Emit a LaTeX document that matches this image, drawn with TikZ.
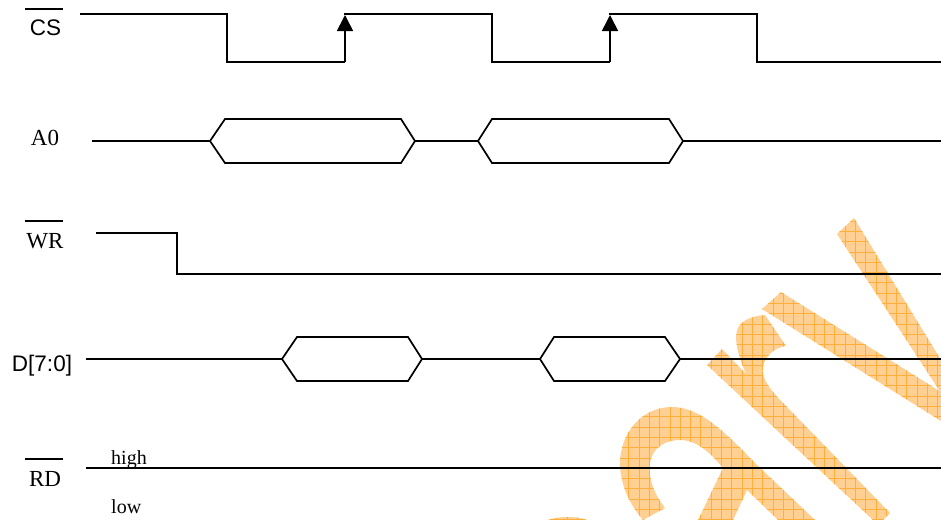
\documentclass[tikz,border=0pt]{standalone}
\usepackage{fontspec}
\setmainfont{Liberation Serif}
\newfontfamily\arialf{Liberation Sans}
\usetikzlibrary{arrows.meta}
\definecolor{wmfill}{HTML}{FFD092}
\definecolor{wmline}{HTML}{FFAE3C}
\tikzset{
  wave/.style={line width=1.7pt,black,line join=miter},
  edgearrow/.style={wave,-{Triangle[length=16pt,width=16pt]}},
  overbar/.style={line width=1.6pt,black},
  serif/.style={inner sep=0pt,anchor=base,font=\fontsize{23}{23}\selectfont},
  sans/.style={inner sep=0pt,anchor=base,font=\arialf\fontsize{22.5}{23}\selectfont},
  small/.style={inner sep=0pt,anchor=base west,font=\fontsize{20}{20}\selectfont},
}
\newcommand{\wmshape}{
  (854,218) -- (837,234) -- (941,393) -- (941,360) -- cycle
  (781,292) -- (762,309) -- (941,421) -- (941,392) -- cycle
  (722,349) -- (707,365) -- (873,520) -- (883,520) -- (890,513) -- (787,407)
    .. controls (772,392) and (760,378) .. (763,367)
    .. controls (764,357) and (775,347) .. (786,346)
    -- (765,315) .. controls (752,316) and (742,320) .. (738,328)
    .. controls (734,337) and (736,350) .. (746,374) -- cycle
  (643,520) -- (665,508) .. controls (655,495) and (648,480) .. (650,463)
    .. controls (652,448) and (665,440) .. (680,440)
    .. controls (698,440) and (712,455) .. (723,468)
    -- (698,520) -- (733,520) -- (747,490) -- (778,520) -- (815,520) -- (755,463)
    .. controls (725,432) and (700,407) .. (672,407)
    .. controls (640,407) and (620,435) .. (620,463)
    .. controls (620,485) and (630,505) .. (643,520) -- cycle
  (548,520) .. controls (555,517) and (575,515) .. (587,520) -- cycle
}
\begin{document}
\begin{tikzpicture}[x=1pt,y=-1pt]
\useasboundingbox (0,0) rectangle (941,520);
% watermark
\begin{scope}
  \clip \wmshape;
  \fill[wmfill] (500,200) rectangle (941,520);
  \foreach \k in {-14,...,29} {
    \draw[wmline,line width=0.7pt] ({649.3+10.3*\k},200) -- ++(0,320);
  }
  \foreach \k in {-24,...,9} {
    \draw[wmline,line width=0.7pt] (500,{437.3+10.3*\k}) -- ++(441,0);
  }
\end{scope}
% CS
\draw[wave] (80,14) -- (227,14) -- (227,62) -- (345,62);
\draw[edgearrow] (345,62) -- (345,15);
\draw[wave] (344.2,14) -- (492,14) -- (492,62) -- (610,62);
\draw[edgearrow] (610,62) -- (610,15);
\draw[wave] (609.2,14) -- (757,14) -- (757,62) -- (941,62);
% A0
\draw[wave] (92,141) -- (210,141);
\draw[wave] (210,141) -- (225,119) -- (401,119) -- (415,141) -- (401,163) -- (225,163) -- cycle;
\draw[wave] (415,141) -- (478,141);
\draw[wave] (478,141) -- (492,119) -- (669,119) -- (683,141) -- (669,163) -- (492,163) -- cycle;
\draw[wave] (683,141) -- (941,141);
% WR
\draw[wave] (96,233) -- (177,233) -- (177,274) -- (941,274);
% D
\draw[wave] (86,359) -- (282,359);
\draw[wave] (282,359) -- (297,337) -- (408,337) -- (422,359) -- (408,381) -- (297,381) -- cycle;
\draw[wave] (422,359) -- (540,359);
\draw[wave] (540,359) -- (554,337) -- (665,337) -- (680,359) -- (665,381) -- (554,381) -- cycle;
\draw[wave] (680,359) -- (941,359);
% RD
\draw[wave] (86,468) -- (941,468);
% labels
\node[sans] (cs) at (45.5,35) {CS};
\node[serif] (a0) at (45,145) {A0};
\node[serif] (wr) at (45,248) {WR};
\node[sans] (d) at (42,371) {D[7:0]};
\node[serif] (rd) at (45,486) {RD};
\node[small] (hi) at (111,464) {high};
\node[small] (lo) at (111,513) {low};
% overbars
\draw[overbar] (25,9) -- (63,9);
\draw[overbar] (25,221) -- (63,221);
\draw[overbar] (25,459) -- (63,459);
\end{tikzpicture}
\end{document}
